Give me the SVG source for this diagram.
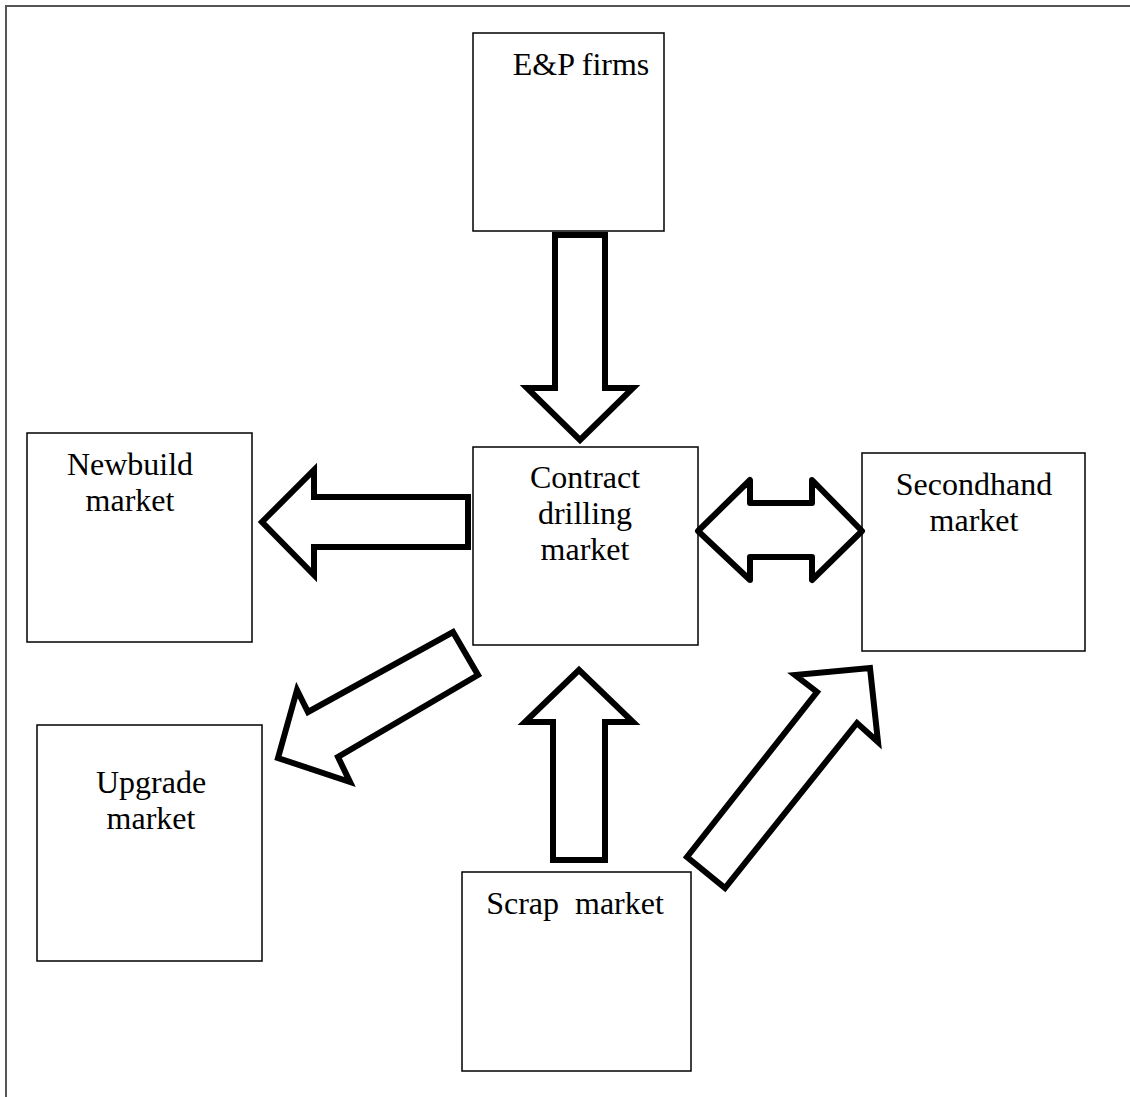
<svg xmlns="http://www.w3.org/2000/svg" width="1130" height="1097" viewBox="0 0 1130 1097">
<style>
.box{fill:#fff;stroke:#000;stroke-width:1.5}
.arr{fill:#fff;stroke:#000;stroke-width:6;stroke-linejoin:miter;stroke-miterlimit:10}
text{font-family:"Liberation Serif","Times New Roman",serif;font-size:32px;fill:#000;text-anchor:middle}
</style>
<rect width="1130" height="1097" fill="#fff"/>
<path d="M6,1097 L6,6 L1130,6" fill="none" stroke="#555" stroke-width="2"/>
<g id="ep"><rect class="box" x="473" y="33" width="191" height="198"/><text x="581" y="75">E&amp;P firms</text></g>
<g id="contract"><rect class="box" x="473" y="447" width="225" height="198"/><text x="585" y="488">Contract</text><text x="585" y="524">drilling</text><text x="585" y="560">market</text></g>
<g id="newbuild"><rect class="box" x="27" y="433" width="225" height="209"/><text x="130" y="475">Newbuild</text><text x="130" y="511">market</text></g>
<g id="secondhand"><rect class="box" x="862" y="453" width="223" height="198"/><text x="974" y="495">Secondhand</text><text x="974" y="531">market</text></g>
<g id="upgrade"><rect class="box" x="37" y="725" width="225" height="236"/><text x="151" y="793">Upgrade</text><text x="151" y="829">market</text></g>
<g id="scrap"><rect class="box" x="462" y="872" width="229" height="199"/><text x="575" y="914" xml:space="preserve">Scrap  market</text></g>
<g id="connectors">
<path class="arr" d="M555,235 L605,235 L605,388 L633,388 L580,440 L527,388 L555,388 Z"/>
<path class="arr" d="M468,497 L314,497 L314,470 L262,522 L314,575 L314,547 L468,547 Z"/>
<path class="arr" style="stroke-linejoin:round" d="M698,531 L750,480 L750,503 L812,503 L812,480 L862,531 L812,580 L812,557 L750,557 L750,580 Z"/>
<path class="arr" d="M453,632 L478,675 L338,757 L350,782 L278,758 L297,690 L308,712 Z"/>
<path class="arr" d="M579,670 L633,722 L605,722 L605,860 L553,860 L553,722 L525,722 Z"/>
<path class="arr" d="M870,668 L878,742 L857,723 L725,888 L687,857 L817,692 L795,675 Z"/>
</g>
</svg>
